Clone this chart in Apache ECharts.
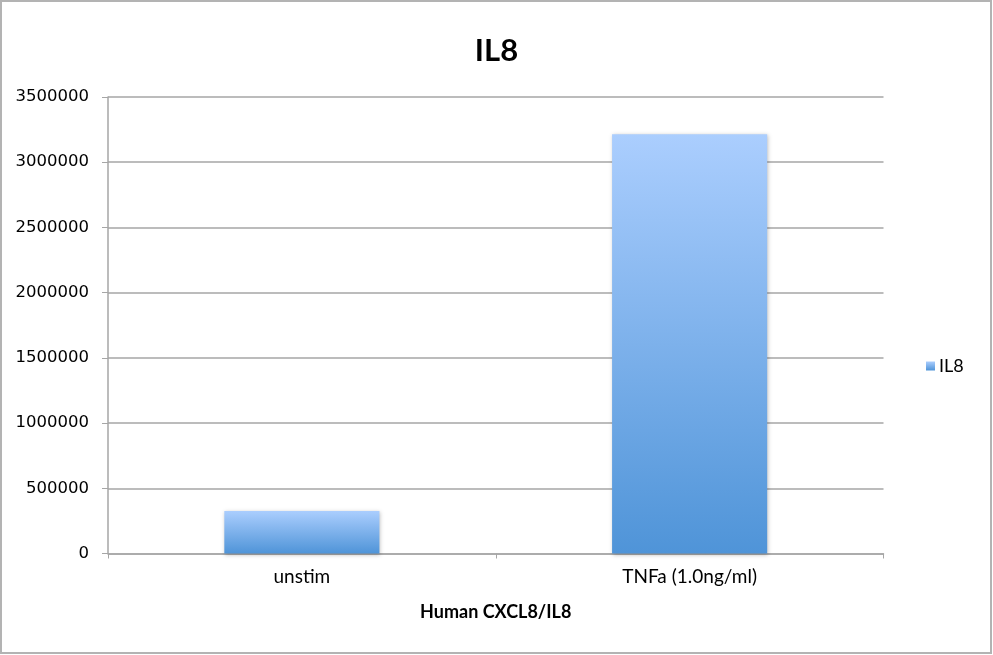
<!DOCTYPE html>
<html>
<head>
<meta charset="utf-8">
<script src="https://cdn.jsdelivr.net/npm/echarts@6/dist/echarts.min.js"></script>
<style>
html,body{margin:0;padding:0;background:#fff;}
#chart{width:993px;height:655px;}
</style>
</head>
<body>
<div id="chart"></div>
<script>
const categories = ["unstim", "TNFa (1.0ng/ml)"];
const il8Values = [326000, 3215000];
const yTicks = [0, 500000, 1000000, 1500000, 2000000, 2500000, 3000000, 3500000];

const chart = echarts.init(document.getElementById('chart'));
const barGradient = new echarts.graphic.LinearGradient(0, 0, 0, 1, [
  {offset: 0, color: '#abcefe'},
  {offset: 1, color: '#4f94d8'}
]);
chart.setOption({
  animation: false,
  backgroundColor: '#fff',
  graphic: [{
    type: 'rect',
    shape: {x: 1, y: 1, width: 990, height: 652},
    style: {fill: 'none', stroke: '#b3b3b3', lineWidth: 2},
    silent: true
  }],
  title: {
    text: 'IL8',
    left: 'center',
    top: 30,
    textStyle: {fontFamily: 'Lato', fontWeight: 'bold', fontSize: 31, color: '#000'}
  },
  legend: {
    left: 921,
    top: 352,
    itemWidth: 9,
    itemHeight: 9,
    itemGap: 8,
    icon: 'rect',
    textStyle: {fontFamily: 'Lato', fontSize: 18, color: '#000', padding: [0, 0, 0, -1]},
    data: ['IL8']
  },
  grid: {left: 108, right: 109.5, top: 97, bottom: 101.5, containLabel: false},
  xAxis: {
    type: 'category',
    data: categories,
    boundaryGap: true,
    name: 'Human CXCL8/IL8',
    nameLocation: 'middle',
    nameGap: 50,
    nameTextStyle: {fontFamily: 'Lato', fontWeight: 'bold', fontSize: 18, color: '#000'},
    axisLine: {lineStyle: {color: '#a6a6a6', width: 1.5}},
    axisTick: {show: true, length: 5, inside: false, alignWithLabel: false, lineStyle: {color: '#a6a6a6'}},
    axisLabel: {fontFamily: 'Lato', fontSize: 19, color: '#000', margin: 14}
  },
  yAxis: {
    type: 'value',
    min: 0,
    max: 3500000,
    interval: 500000,
    axisLine: {show: true, lineStyle: {color: '#a6a6a6', width: 1.5}},
    axisTick: {show: true, length: 6, lineStyle: {color: '#a6a6a6'}},
    axisLabel: {fontFamily: 'DejaVu Sans', fontSize: 16.5, color: '#000', margin: 19,
      formatter: function (v) { return yTicks.indexOf(v) >= 0 ? String(v) : ''; }},
    splitLine: {lineStyle: {color: '#a6a6a6', width: 1.5}}
  },
  series: [{
    name: 'IL8',
    type: 'bar',
    data: il8Values,
    barWidth: '40%',
    itemStyle: {
      color: barGradient,
      shadowBlur: 4,
      shadowColor: 'rgba(0,0,0,0.25)',
      shadowOffsetX: 1,
      shadowOffsetY: 1
    }
  }]
});
</script>
</body>
</html>
